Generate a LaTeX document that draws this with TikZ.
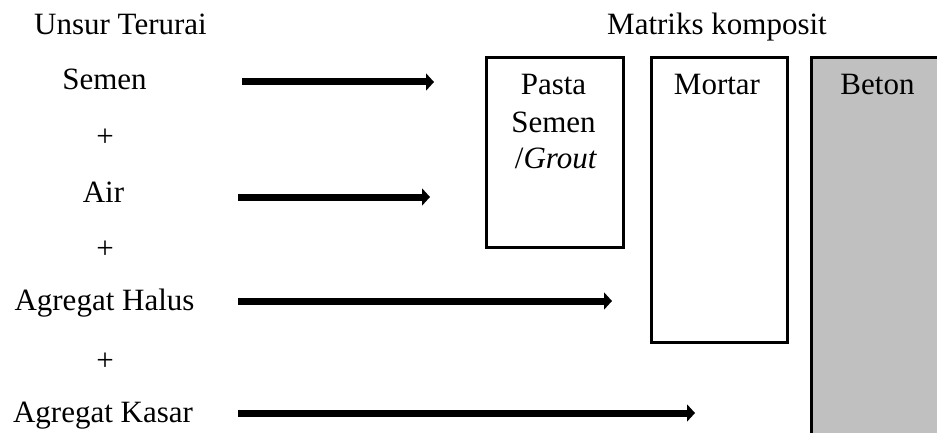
\documentclass[tikz,border=0pt]{standalone}
\usepackage{fontspec}
\setmainfont{Liberation Serif}
\usetikzlibrary{arrows.meta}
\begin{document}
\begin{tikzpicture}[x=1pt,y=-1pt,
  txt/.style={font=\fontsize{31}{37}\selectfont, inner sep=0pt, anchor=base},
  plus/.style={font=\fontsize{31}{37}\selectfont, inner sep=0pt, anchor=center},
  box/.style={draw, line width=2.6pt, anchor=north west, inner sep=0pt},
  arr/.style={line width=7pt, -{Triangle[length=8pt,width=17pt]}}]
\useasboundingbox (0,0) rectangle (937,433);
\clip (0,0) rectangle (937,433);

% composite matrix boxes
\node[box, minimum width=137pt, minimum height=190pt] (pasta) at (485,56) {};
\node[box, minimum width=136pt, minimum height=285pt] (mortar) at (650,56) {};
\node[box, fill={rgb,255:red,192;green,192;blue,192}, minimum width=140pt, minimum height=400pt] (beton) at (810,56) {};

% headings
\node[txt] (unsur) at (120.5,35) {Unsur Terurai};
\node[txt, anchor=base west] (matriks) at (607,35) {Matriks komposit};

% constituents
\node[txt] (semen) at (104.5,90) {Semen};
\node[plus] (p1) at (105,138) {+};
\node[txt] (air) at (103.5,202) {Air};
\node[plus] (p2) at (105,250) {+};
\node[txt] (halus) at (104.5,310) {Agregat Halus};
\node[plus] (p3) at (105,362) {+};
\node[txt] (kasar) at (103,422) {Agregat Kasar};

% box labels
\node[txt] (pastaA) at (553.5,95) {Pasta};
\node[txt] (pastaB) at (553.5,132) {Semen};
\node[txt] (pastaC) at (556,168) {/\textit{Grout}};
\node[txt] (mortarT) at (717,95) {Mortar};
\node[txt] (betonT) at (877.5,95) {Beton};

% arrows
\coordinate (s1) at (242,82);  \coordinate (e1) at (434,82);
\coordinate (s2) at (238,197); \coordinate (e2) at (430,197);
\coordinate (s3) at (238,301); \coordinate (e3) at (612,301);
\coordinate (s4) at (238,413); \coordinate (e4) at (695,413);
\draw[arr] (s1) -- (e1);
\draw[arr] (s2) -- (e2);
\draw[arr] (s3) -- (e3);
\draw[arr] (s4) -- (e4);
\end{tikzpicture}
\end{document}
